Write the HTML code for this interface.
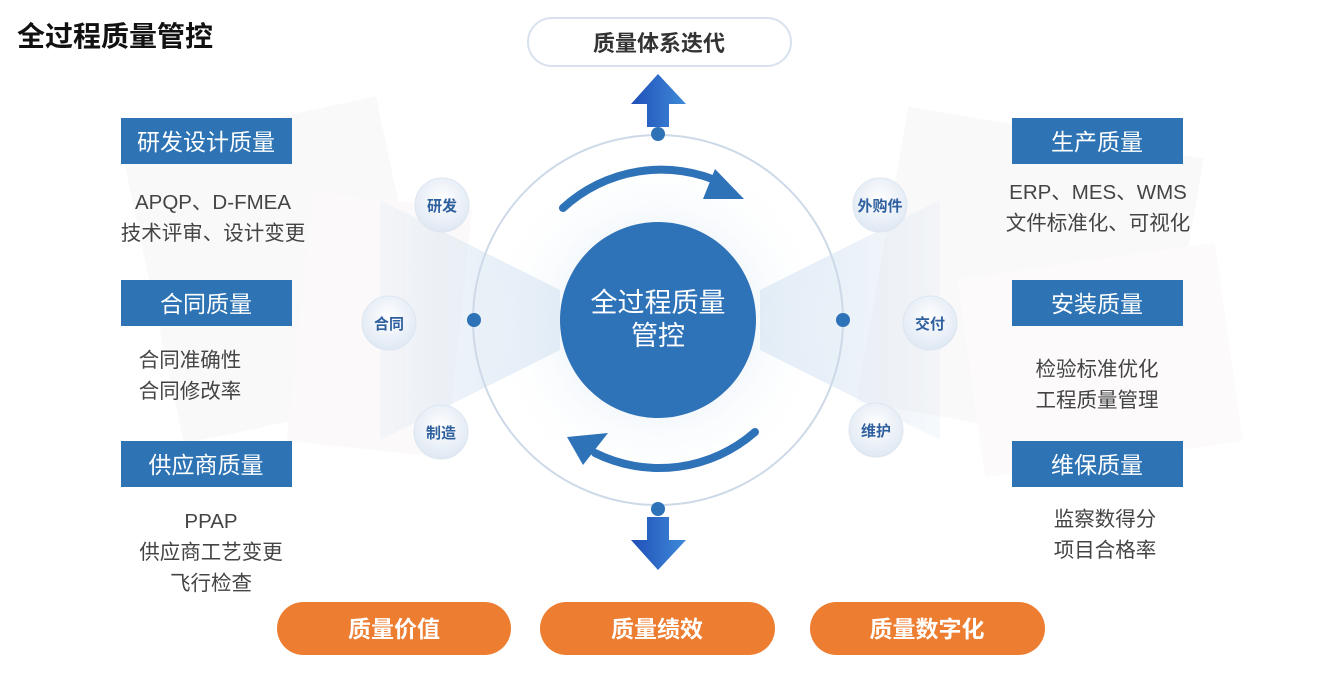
<!DOCTYPE html>
<html><head><meta charset="utf-8"><style>
html,body{margin:0;padding:0;background:#fff;}
svg{display:block;font-family:"Liberation Sans","Noto Sans CJK SC",sans-serif;}
</style></head><body>
<svg width="1317" height="682" viewBox="0 0 1317 682" xmlns="http://www.w3.org/2000/svg">
<defs>
<radialGradient id="glow" cx="50%" cy="50%" r="50%">
<stop offset="0" stop-color="#c9dcef" stop-opacity="0.9"/>
<stop offset="1" stop-color="#ffffff" stop-opacity="0"/>
</radialGradient>
<radialGradient id="sm" cx="50%" cy="40%" r="60%">
<stop offset="0" stop-color="#ffffff"/>
<stop offset="1" stop-color="#dfe8f3"/>
</radialGradient>
<linearGradient id="arr" x1="0" y1="0" x2="1" y2="0">
<stop offset="0" stop-color="#1f4fb8"/>
<stop offset="1" stop-color="#3f8ad8"/>
</linearGradient>
<linearGradient id="wl" x1="0" y1="0" x2="1" y2="0">
<stop offset="0" stop-color="#d6e4f2" stop-opacity="0.2"/>
<stop offset="1" stop-color="#d6e4f2" stop-opacity="0.8"/>
</linearGradient>
<linearGradient id="wr" x1="1" y1="0" x2="0" y2="0">
<stop offset="0" stop-color="#d6e4f2" stop-opacity="0.2"/>
<stop offset="1" stop-color="#d6e4f2" stop-opacity="0.8"/>
</linearGradient>
</defs>
<rect width="1317" height="682" fill="#fff"/>
<g opacity="0.35">
<rect x="150" y="120" width="260" height="300" fill="#f1eeee" transform="rotate(-12 280 270)"/>
<rect x="880" y="130" width="300" height="300" fill="#f1eeee" transform="rotate(10 1030 280)"/>
<rect x="970" y="260" width="260" height="200" fill="#f6efef" transform="rotate(-8 1100 360)"/>
<rect x="300" y="200" width="160" height="250" fill="#f3eded" transform="rotate(6 380 320)"/>
</g>
<polygon points="380,200 560,290 560,350 380,440" fill="url(#wl)"/>
<polygon points="940,200 760,290 760,350 940,440" fill="url(#wr)"/>
<circle cx="658" cy="320" r="175" fill="url(#glow)"/>
<circle cx="658" cy="320" r="185" fill="none" stroke="#cdd9e8" stroke-width="2"/>
<path d="M563 208 A145 145 0 0 1 722 183" fill="none" stroke="#2e72b8" stroke-width="8" stroke-linecap="round"/>
<polygon points="715,169 744,199 703,199" fill="#2e72b8"/>
<path d="M755 432 A145 145 0 0 1 595 453" fill="none" stroke="#2e72b8" stroke-width="8" stroke-linecap="round"/>
<polygon points="567,437 608,433 583,465" fill="#2e72b8"/>
<circle cx="658" cy="320" r="98" fill="#2e72b8"/>
<text x="658" y="312" font-size="27" fill="#fff" text-anchor="middle">全过程质量</text>
<text x="658" y="345" font-size="27" fill="#fff" text-anchor="middle">管控</text>
<circle cx="658" cy="134" r="7" fill="#2e72b8"/>
<circle cx="474" cy="320" r="7" fill="#2e72b8"/>
<circle cx="843" cy="320" r="7" fill="#2e72b8"/>
<circle cx="658" cy="509" r="7" fill="#2e72b8"/>
<polygon points="658,74 686,104 669,104 669,127 647,127 647,104 631,104" fill="url(#arr)"/>
<polygon points="658,570 686,540 669,540 669,517 647,517 647,540 631,540" fill="url(#arr)"/>
<g font-size="15" font-weight="bold" fill="#2e5f9e" text-anchor="middle">
<circle cx="442" cy="205" r="27" fill="url(#sm)" stroke="#dde6f0"/><text x="442" y="211">研发</text>
<circle cx="389" cy="323" r="27" fill="url(#sm)" stroke="#dde6f0"/><text x="389" y="329">合同</text>
<circle cx="441" cy="432" r="27" fill="url(#sm)" stroke="#dde6f0"/><text x="441" y="438">制造</text>
<circle cx="880" cy="205" r="27" fill="url(#sm)" stroke="#dde6f0"/><text x="880" y="211">外购件</text>
<circle cx="930" cy="323" r="27" fill="url(#sm)" stroke="#dde6f0"/><text x="930" y="329">交付</text>
<circle cx="876" cy="430" r="27" fill="url(#sm)" stroke="#dde6f0"/><text x="876" y="436">维护</text>
</g>
<text x="17" y="46" font-size="28" font-weight="bold" fill="#111">全过程质量管控</text>
<rect x="528" y="18" width="263" height="48" rx="24" fill="#fff" stroke="#d8e2ee" stroke-width="2"/>
<text x="659" y="51" font-size="22" font-weight="bold" fill="#333" text-anchor="middle">质量体系迭代</text>
<g fill="#2e74b5">
<rect x="121" y="118" width="171" height="46"/>
<rect x="121" y="280" width="171" height="46"/>
<rect x="121" y="441" width="171" height="46"/>
<rect x="1012" y="118" width="171" height="46"/>
<rect x="1012" y="280" width="171" height="46"/>
<rect x="1012" y="441" width="171" height="46"/>
</g>
<g font-size="23" fill="#fff" text-anchor="middle">
<text x="206" y="150">研发设计质量</text>
<text x="206" y="312">合同质量</text>
<text x="206" y="473">供应商质量</text>
<text x="1097" y="150">生产质量</text>
<text x="1097" y="312">安装质量</text>
<text x="1097" y="473">维保质量</text>
</g>
<g font-size="20.5" fill="#444" text-anchor="middle">
<text x="213" y="209">APQP、D-FMEA</text>
<text x="213" y="240">技术评审、设计变更</text>
<text x="190" y="367">合同准确性</text>
<text x="190" y="398">合同修改率</text>
<text x="211" y="528">PPAP</text>
<text x="211" y="559">供应商工艺变更</text>
<text x="211" y="590">飞行检查</text>
<text x="1098" y="199">ERP、MES、WMS</text>
<text x="1098" y="230">文件标准化、可视化</text>
<text x="1097" y="376">检验标准优化</text>
<text x="1097" y="407">工程质量管理</text>
<text x="1105" y="526">监察数得分</text>
<text x="1105" y="557">项目合格率</text>
</g>
<g fill="#ed7d31">
<rect x="277" y="602" width="234" height="53" rx="26.5"/>
<rect x="540" y="602" width="235" height="53" rx="26.5"/>
<rect x="810" y="602" width="235" height="53" rx="26.5"/>
</g>
<g font-size="23" font-weight="bold" fill="#fff" text-anchor="middle">
<text x="394" y="637">质量价值</text>
<text x="657" y="637">质量绩效</text>
<text x="927" y="637">质量数字化</text>
</g>
</svg>
</body></html>
